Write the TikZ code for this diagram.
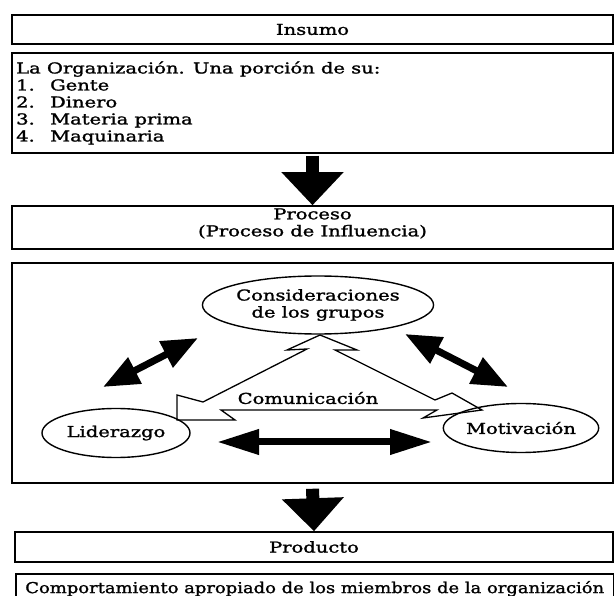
\documentclass[tikz,border=0pt]{standalone}
\usepackage{graphicx}
\usepackage{fontspec}
\setmainfont{DejaVu Serif}[FakeStretch=1.3,FakeBold=1.5]
\usetikzlibrary{arrows.meta,shapes.geometric}

\begin{document}
\begin{tikzpicture}[x=1pt,y=-1pt,font=\fontsize{15}{17}\selectfont,
  b/.style={draw,line width=1.5pt,minimum width=601pt,inner sep=0pt,align=center},
  el/.style={draw,ellipse,line width=1.4pt,inner sep=0pt,align=center},
  down/.style={line width=13pt,-{Triangle[length=33pt,width=60pt]}},
  dbl/.style={line width=7pt,{Triangle[length=36pt,width=28pt]}-{Triangle[length=36pt,width=28pt]}}]
\useasboundingbox (0,0) rectangle (614,596);
\node[b,minimum height=29pt] (insumo) at (312.5,29.5) {Insumo};
\node[b,minimum height=100pt] (org) at (312.5,103) {};
\node[anchor=west,align=left,inner sep=0pt] (orgtxt) at (16,103) {La Organización. Una porción de su:\\
  \makebox[34pt][l]{1.}Gente\\
  \makebox[34pt][l]{2.}Dinero\\
  \makebox[34pt][l]{3.}Materia prima\\
  \makebox[34pt][l]{4.}Maquinaria};
\node[b,minimum height=43pt] (proceso) at (312.5,227.5) {};
\node[align=center,inner sep=0pt] (proctxt) at (312.5,223.5) {Proceso\\(Proceso de Influencia)};
\node[b,minimum height=220pt] (infl) at (312.5,373) {};
\node[b,minimum width=598pt,minimum height=30pt] (producto) at (314,547) {Producto};
\node[b,minimum width=598pt,minimum height=30pt,anchor=north west] (comp) at (15,573)
  {\scalebox{0.92}[1]{Comportamiento apropiado de los miembros de la organización}};

\node[el,minimum width=152pt,minimum height=58pt] (cons) at (318,305) {Consideraciones\\de los grupos};
\node[el,minimum width=148pt,minimum height=49pt] (lid) at (116,433) {Liderazgo};
\node[el,minimum width=150pt,minimum height=49pt] (mot) at (521,428) {Motivación};
\node[inner sep=0pt] (com) at (308,398) {Comunicación};

\draw[line width=1.3pt,line join=miter] (320,335) -- (287,350) -- (307,349) -- (203,402)
  -- (177,395) -- (177,420) -- (235,420) -- (221,410) -- (437,410) -- (423,418)
  -- (482,410) -- (452,393) -- (435,400) -- (335,350) -- (357,350) -- cycle;

\coordinate (l1) at (103,387);
\coordinate (l2) at (198,338);
\coordinate (r1) at (405,334);
\coordinate (r2) at (508,387);
\coordinate (h1) at (217,442);
\coordinate (h2) at (432,442);
\draw[dbl] (l1) -- (l2);
\draw[dbl] (r1) -- (r2);
\draw[dbl,{Triangle[length=42pt,width=24pt]}-{Triangle[length=42pt,width=24pt]}] (h1) -- (h2);

\draw[down] ([yshift=-2pt]org.south) -- (proceso.north);
\draw[down] ([yshift=-5pt]infl.south) -- (producto.north);
\end{tikzpicture}
\end{document}
